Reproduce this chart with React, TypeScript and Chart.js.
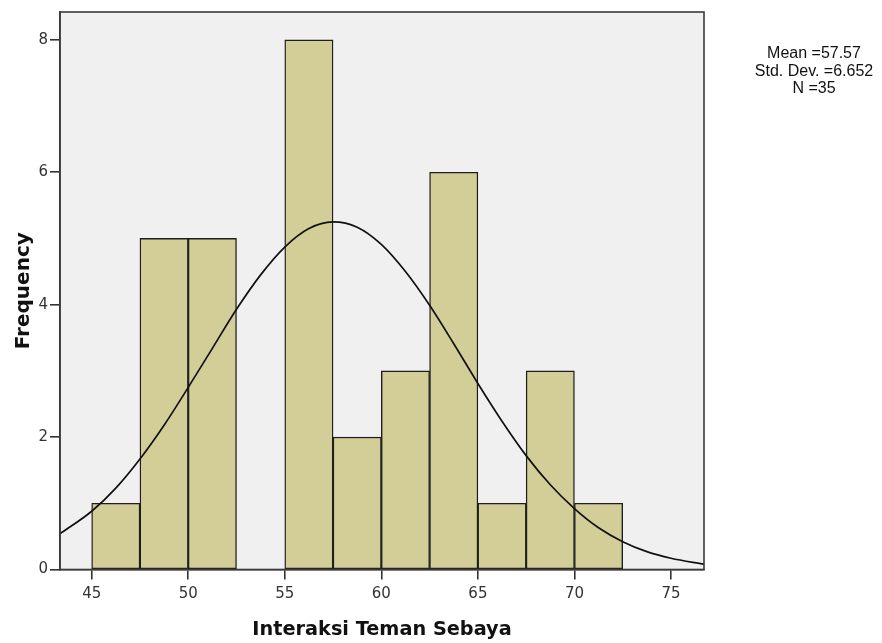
import React, { useEffect, useRef } from "react";
import { Chart, registerables } from "chart.js";

Chart.register(...registerables);

// Histogram bins (lower edge) and frequencies
const binStarts = [45, 47.5, 50, 52.5, 55, 57.5, 60, 62.5, 65, 67.5, 70];
const binWidth = 2.5;
const frequencies = [1, 5, 5, 0, 8, 2, 3, 6, 1, 3, 1];

// Normal curve (x, frequency)
const curveX = [43.36, 45, 46.25, 47.5, 48.75, 50, 51.25, 52.5, 53.75, 55, 56.25, 57.5, 58.75, 60, 61.25, 62.5, 63.75, 65, 66.25, 67.5, 68.75, 70, 71.25, 72.5, 73.75, 75, 76.71];
const curveY = [0.54, 0.88, 1.23, 1.67, 2.18, 2.75, 3.34, 3.93, 4.45, 4.87, 5.15, 5.25, 5.17, 4.91, 4.5, 3.99, 3.41, 2.81, 2.24, 1.72, 1.28, 0.92, 0.63, 0.42, 0.27, 0.17, 0.08];

const xTicks = [45, 50, 55, 60, 65, 70, 75];
const yTicks = [0, 2, 4, 6, 8];

const statsLines = ["Mean =57.57", "Std. Dev. =6.652", "N =35"];

const plotBgPlugin = {
  id: "plotBg",
  beforeDraw(chart: any) {
    const { ctx, chartArea } = chart;
    ctx.save();
    ctx.fillStyle = "#f0f0f0";
    ctx.fillRect(chartArea.left, chartArea.top, chartArea.right - chartArea.left, chartArea.bottom - chartArea.top);
    ctx.restore();
  },
  afterDraw(chart: any) {
    const { ctx, chartArea } = chart;
    ctx.save();
    ctx.strokeStyle = "#3a3a3a";
    ctx.lineWidth = 1.6;
    ctx.strokeRect(chartArea.left, chartArea.top, chartArea.right - chartArea.left, chartArea.bottom - chartArea.top);
    ctx.restore();
  },
};

export default function App() {
  const ref = useRef<HTMLCanvasElement | null>(null);

  useEffect(() => {
    if (!ref.current) return;
    const barData = binStarts.map((s, i) => ({ x: s + binWidth / 2, y: frequencies[i] }));
    const lineData = curveX.map((x, i) => ({ x, y: curveY[i] }));
    const tickFont = { family: "'DejaVu Sans', sans-serif", size: 15 };
    const xTitleFont = { family: "'DejaVu Sans', sans-serif", size: 19.3, weight: "bold" as const };
    const yTitleFont = { family: "'DejaVu Sans', sans-serif", size: 20, weight: "bold" as const };

    const chart = new Chart(ref.current, {
      type: "bar",
      data: {
        datasets: [
          {
            type: "line",
            data: lineData,
            borderColor: "#111111",
            borderWidth: 1.7,
            pointRadius: 0,
            fill: false,
            tension: 0.4,
            cubicInterpolationMode: "monotone",
            order: 0,
          } as any,
          {
            type: "bar",
            data: barData,
            backgroundColor: "#d3ce98",
            borderColor: "#1e1e1e",
            borderWidth: 1.4,
            borderSkipped: false,
            barPercentage: 1,
            categoryPercentage: 1,
            order: 1,
          } as any,
        ],
      },
      options: {
        responsive: false,
        animation: false,
        layout: { padding: { left: 0, top: 12, right: 178, bottom: 0 } },
        plugins: { legend: { display: false }, tooltip: { enabled: false } },
        scales: {
          x: {
            type: "linear",
            offset: false,
            min: 43.36,
            max: 76.71,
            afterBuildTicks: (s: any) => {
              s.ticks = xTicks.map((v) => ({ value: v }));
            },
            afterFit: (s: any) => {
              s.height = 73.5;
            },
            grid: { offset: false, drawOnChartArea: false, drawTicks: true, tickLength: 10, color: "#333333", lineWidth: 1.6 },
            border: { display: true, color: "#3a3a3a", width: 1.6 },
            ticks: { color: "#333333", font: tickFont, padding: 6, maxRotation: 0 },
            title: { display: true, text: "Interaksi Teman Sebaya", color: "#111111", font: xTitleFont, padding: { top: 0, bottom: 1 } },
          },
          y: {
            type: "linear",
            min: 0,
            max: 8.42,
            afterBuildTicks: (s: any) => {
              s.ticks = yTicks.map((v) => ({ value: v }));
            },
            afterFit: (s: any) => {
              s.width = 60;
            },
            grid: { drawOnChartArea: false, drawTicks: true, tickLength: 10, color: "#333333", lineWidth: 1.6 },
            border: { display: true, color: "#3a3a3a", width: 1.6 },
            ticks: { color: "#333333", font: tickFont, padding: 2 },
            title: { display: true, text: "Frequency", color: "#111111", font: yTitleFont, padding: { top: 12, bottom: 0 } },
          },
        },
      },
      plugins: [plotBgPlugin],
    });
    return () => chart.destroy();
  }, []);

  return (
    <div style={{ position: "absolute", left: 0, top: 0, width: 882, height: 643, background: "#ffffff" }}>
      <canvas ref={ref} width={882} height={643} style={{ width: 882, height: 643, display: "block" }} />
      <div
        style={{
          position: "absolute",
          left: 734,
          top: 44,
          width: 160,
          textAlign: "center",
          fontFamily: "'Liberation Sans', Arial, sans-serif",
          fontSize: 16,
          lineHeight: "17.5px",
          color: "#111111",
        }}
      >
        {statsLines.map((l) => (
          <div key={l}>{l}</div>
        ))}
      </div>
    </div>
  );
}
